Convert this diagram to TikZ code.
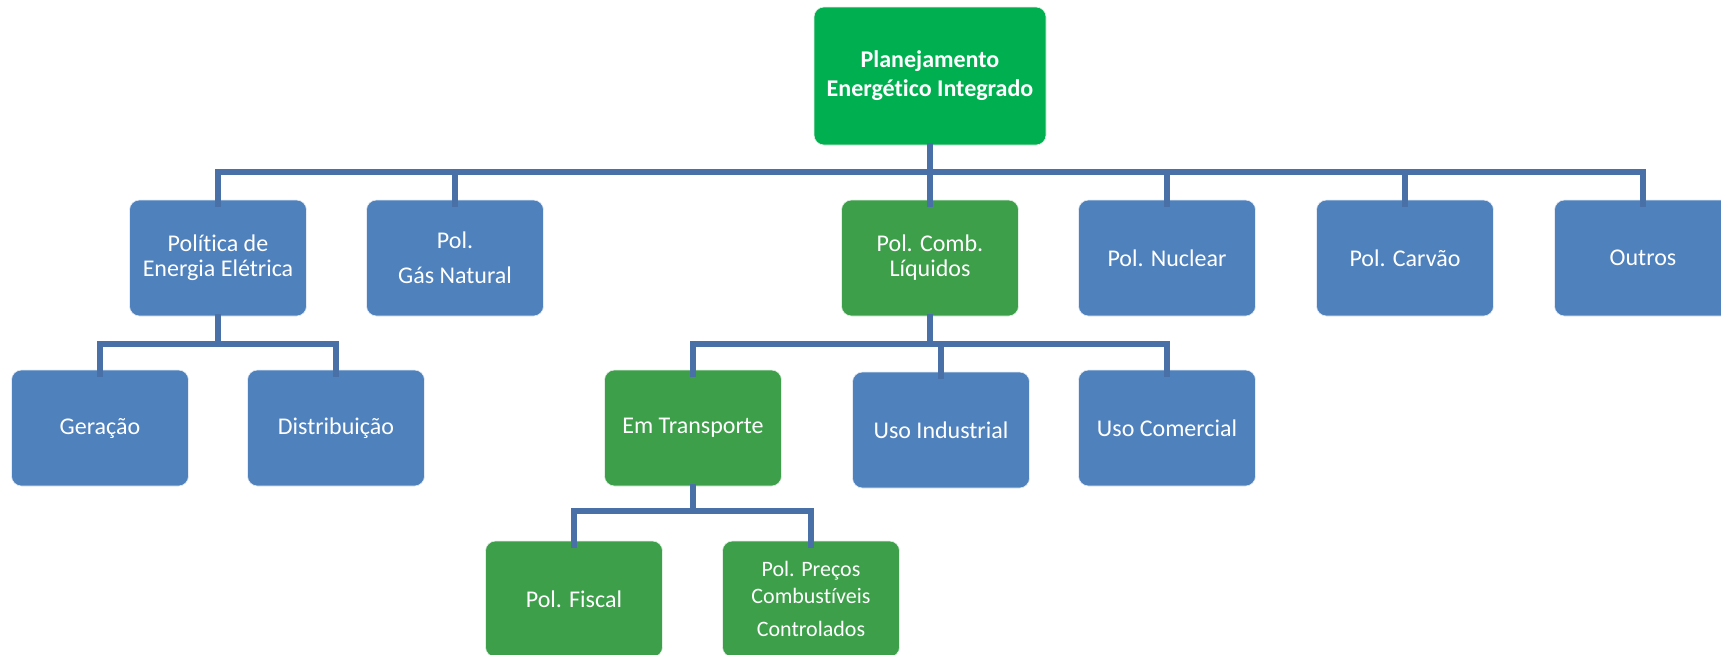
\documentclass[tikz,border=0pt]{standalone}
\usepackage{fontspec}
\setmainfont{Carlito}[Ligatures=NoCommon]
\definecolor{boxblue}{HTML}{4F81BD}
\definecolor{boxgreen}{HTML}{3D9F4A}
\definecolor{rootgreen}{HTML}{00B050}
\definecolor{linkblue}{HTML}{4A70A8}
\begin{document}
\begin{tikzpicture}[x=1pt,y=-1pt,
	box/.style={draw=white!85!boxblue,line width=0.6pt,fill=boxblue,text=white,rounded corners=10pt,
		minimum width=177pt,minimum height=116pt,inner sep=2pt,align=center,
		font=\fontsize{24}{25}\selectfont},
	gbox/.style={box,fill=boxgreen,draw=white!85!boxgreen},
	link/.style={draw=linkblue,line width=5.5pt}]
	\useasboundingbox (0,0) rectangle (1721,654);
	
	\node[gbox,fill=rootgreen,minimum width=232pt,minimum height=138pt,
		font=\fontsize{24}{29}\selectfont\bfseries] (root) at (930,76) {Planejamento\\Energético Integrado};
	
	\node[box] (pee) at (218,258) {Política de\\Energia Elétrica};
	\node[box] (pgn) at (455,258) {Pol.\\[10pt]Gás Natural};
	\node[gbox] (pcl) at (930,258) {Pol. Comb.\\Líquidos};
	\node[box] (pnu) at (1167,258) {Pol. Nuclear};
	\node[box] (pca) at (1405,258) {Pol. Carvão};
	\node[box] (out) at (1643,258) {Outros};
	
	\node[box] (ger) at (100,428) {Geração};
	\node[box] (dis) at (336,428) {Distribuição};
	\node[gbox] (etr) at (693,428) {Em Transporte};
	\node[box] (uin) at (941,430) {Uso Industrial};
	\node[box] (uco) at (1167,428) {Uso Comercial};
	
	\node[gbox] (pfi) at (574,599) {Pol. Fiscal};
	\node[gbox,font=\fontsize{22}{27}\selectfont] (ppc) at (811,599) {Pol. Preços\\Combustíveis\\[6pt]Controlados};
	
	% first level
	\foreach \n in {pee,pgn,pcl,pnu,pca,out}
	\draw[link] ([yshift=2]root.south) -- (root.south |- 0,172) -| ([yshift=-7]\n.north);
	
	% second level
	\foreach \n in {ger,dis}
	\draw[link] ([yshift=2]pee.south) -- (pee.south |- 0,344) -| ([yshift=-7]\n.north);
	\foreach \n in {etr,uin,uco}
	\draw[link] ([yshift=2]pcl.south) -- (pcl.south |- 0,344) -| ([yshift=-7]\n.north);
	
	% third level
	\foreach \n in {pfi,ppc}
	\draw[link] ([yshift=2]etr.south) -- (etr.south |- 0,511) -| ([yshift=-7]\n.north);
\end{tikzpicture}
\end{document}
